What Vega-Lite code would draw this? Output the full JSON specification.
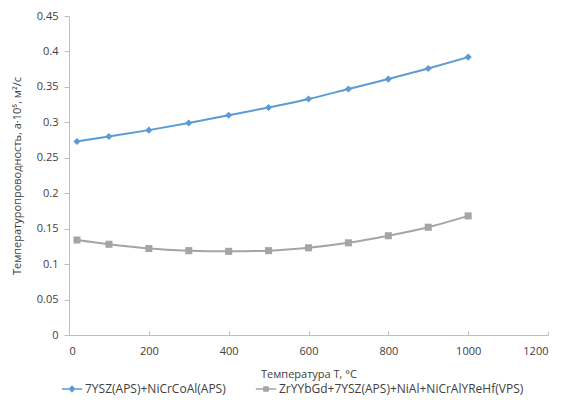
{
  "$schema": "https://vega.github.io/schema/vega-lite/v6.json",
  "width": 479,
  "height": 319,
  "autosize": "none",
  "padding": {"left": 69, "top": 16, "right": 15, "bottom": 65},
  "background": "white",
  "config": {
    "view": {"stroke": null},
    "font": "Open Sans",
    "axis": {"grid": false, "domainColor": "#bfbfbf", "tickColor": "#bfbfbf", "labelColor": "#404040", "labelFontSize": 11, "titleFontSize": 11, "titleColor": "#404040", "titleFontWeight": "normal", "labelFont": "Open Sans", "titleFont": "Open Sans"}
  },
  "data": {"values": [
    {"T": 20, "a": 0.273, "s": "7YSZ(APS)+NiCrCoAl(APS)"},
    {"T": 100, "a": 0.280, "s": "7YSZ(APS)+NiCrCoAl(APS)"},
    {"T": 200, "a": 0.289, "s": "7YSZ(APS)+NiCrCoAl(APS)"},
    {"T": 300, "a": 0.299, "s": "7YSZ(APS)+NiCrCoAl(APS)"},
    {"T": 400, "a": 0.310, "s": "7YSZ(APS)+NiCrCoAl(APS)"},
    {"T": 500, "a": 0.321, "s": "7YSZ(APS)+NiCrCoAl(APS)"},
    {"T": 600, "a": 0.333, "s": "7YSZ(APS)+NiCrCoAl(APS)"},
    {"T": 700, "a": 0.347, "s": "7YSZ(APS)+NiCrCoAl(APS)"},
    {"T": 800, "a": 0.361, "s": "7YSZ(APS)+NiCrCoAl(APS)"},
    {"T": 900, "a": 0.376, "s": "7YSZ(APS)+NiCrCoAl(APS)"},
    {"T": 1000, "a": 0.392, "s": "7YSZ(APS)+NiCrCoAl(APS)"},
    {"T": 20, "a": 0.134, "s": "ZrYYbGd+7YSZ(APS)+NiAl+NiCrAlYReHf(VPS)"},
    {"T": 100, "a": 0.128, "s": "ZrYYbGd+7YSZ(APS)+NiAl+NiCrAlYReHf(VPS)"},
    {"T": 200, "a": 0.122, "s": "ZrYYbGd+7YSZ(APS)+NiAl+NiCrAlYReHf(VPS)"},
    {"T": 300, "a": 0.119, "s": "ZrYYbGd+7YSZ(APS)+NiAl+NiCrAlYReHf(VPS)"},
    {"T": 400, "a": 0.118, "s": "ZrYYbGd+7YSZ(APS)+NiAl+NiCrAlYReHf(VPS)"},
    {"T": 500, "a": 0.119, "s": "ZrYYbGd+7YSZ(APS)+NiAl+NiCrAlYReHf(VPS)"},
    {"T": 600, "a": 0.123, "s": "ZrYYbGd+7YSZ(APS)+NiAl+NiCrAlYReHf(VPS)"},
    {"T": 700, "a": 0.130, "s": "ZrYYbGd+7YSZ(APS)+NiAl+NiCrAlYReHf(VPS)"},
    {"T": 800, "a": 0.140, "s": "ZrYYbGd+7YSZ(APS)+NiAl+NiCrAlYReHf(VPS)"},
    {"T": 900, "a": 0.152, "s": "ZrYYbGd+7YSZ(APS)+NiAl+NiCrAlYReHf(VPS)"},
    {"T": 1000, "a": 0.168, "s": "ZrYYbGd+7YSZ(APS)+NiAl+NiCrAlYReHf(VPS)"}
  ]},
  "encoding": {
    "x": {"field": "T", "type": "quantitative", "scale": {"domain": [0, 1200], "nice": false},
      "axis": {"values": [0, 200, 400, 600, 800, 1000, 1200], "format": "d", "title": "Температура T, °С", "tickSize": -4, "labelPadding": 14, "titlePadding": 12}},
    "y": {"field": "a", "type": "quantitative", "scale": {"domain": [0, 0.45], "nice": false},
      "axis": {"values": [0, 0.05, 0.1, 0.15, 0.2, 0.25, 0.3, 0.35, 0.4, 0.45], "format": ".2~f", "title": "Температуропроводность, a·10⁵, м²/с", "tickSize": 5, "labelPadding": 6, "titlePadding": 14}},
    "color": {"field": "s", "type": "nominal", "title": null,
      "scale": {"range": ["#5b9bd5", "#a5a5a5"]},
      "legend": {"orient": "none", "direction": "horizontal", "legendX": -4, "legendY": 366, "symbolSize": 144, "labelFontSize": 12, "labelColor": "#404040", "labelLimit": 400, "columnPadding": 26, "labelOffset": 6, "symbolStrokeWidth": 1.5,
        "encode": {"symbols": {"update": {
          "shape": {"signal": "indexof(datum.value, 'ZrYY') === 0 ? 'M-1.7,0H1.7M-0.35,-0.35H0.35V0.35H-0.35Z' : 'M-1.7,0H1.7M0,-0.45L0.4,0L0,0.45L-0.4,0Z'"},
          "fill": {"signal": "indexof(datum.value, 'ZrYY') === 0 ? '#a5a5a5' : '#5b9bd5'"},
          "stroke": {"signal": "indexof(datum.value, 'ZrYY') === 0 ? '#a5a5a5' : '#5b9bd5'"},
          "strokeWidth": {"value": 1.5},
          "opacity": {"value": 1},
          "fillOpacity": {"value": 1},
          "strokeOpacity": {"value": 1}
        }}}}
    }
  },
  "layer": [
    {
      "mark": {"type": "line", "interpolate": "monotone", "strokeWidth": 2}
    },
    {
      "mark": {"type": "point", "filled": true, "opacity": 1},
      "encoding": {
        "shape": {"field": "s", "type": "nominal", "legend": null, "scale": {"range": ["diamond", "square"]}},
        "size": {"value": 50}
      }
    }
  ]
}
